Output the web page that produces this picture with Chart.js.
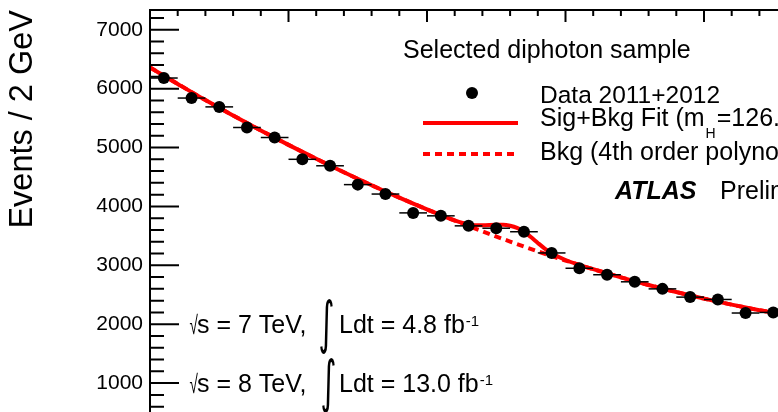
<!DOCTYPE html>
<html>
<head>
<meta charset="utf-8">
<script src="https://cdn.jsdelivr.net/npm/chart.js@4"></script>
<style>
  html, body { margin: 0; padding: 0; background: #fff; overflow: hidden; width: 778px; height: 412px; }
  #wrap { position: absolute; left: 0; top: 0; width: 1000px; height: 450px; }
</style>
</head>
<body>
<div id="wrap"><canvas id="c" width="1000" height="450"></canvas></div>
<script>
// Diphoton invariant mass, bin centres in GeV (2 GeV bins)
const massBins = [101, 103, 105, 107, 109, 111, 113, 115, 117, 119, 121, 123,
                  125, 127, 129, 131, 133, 135, 137, 139, 141, 143, 145];
// Selected events per bin (2011+2012 data)
const events = [6180, 5840, 5690, 5340, 5170, 4800, 4690, 4370, 4210, 3890, 3840, 3670,
                3630, 3570, 3210, 2950, 2840, 2720, 2600, 2460, 2420, 2190, 2200];
const binWidth = 2;

// Signal + background fit curve
const fitMass = [100, 102, 104, 106, 108, 110, 112, 114, 116, 118, 120, 122, 123, 124,
                 125, 125.5, 126, 126.5, 127, 127.5, 128, 128.5, 129, 130, 131, 132,
                 134, 136, 138, 140, 142, 144, 146];
const fitEvents = [6360, 6080, 5805, 5545, 5290, 5045, 4810, 4580, 4360, 4150, 3950, 3762, 3695, 3680,
                   3690, 3690, 3672, 3635, 3572, 3480, 3380, 3285, 3205, 3090, 3008, 2934,
                   2796, 2666, 2546, 2434, 2332, 2238, 2153];

// Background-only fit (4th order polynomial)
const bkgMass = [100, 102, 104, 106, 108, 110, 112, 114, 116, 118, 120, 122, 124, 126,
                 128, 130, 132, 134, 136, 138, 140, 142, 144, 146];
const bkgEvents = [6360, 6080, 5805, 5545, 5290, 5045, 4810, 4580, 4360, 4150, 3950, 3760, 3577, 3403,
                   3237, 3081, 2934, 2796, 2666, 2546, 2434, 2332, 2238, 2153];

// Vertical axis ticks
const yTickValues = [0, 1000, 2000, 3000, 4000, 5000, 6000, 7000];
const yTickLabels = ['0', '1000', '2000', '3000', '4000', '5000', '6000', '7000'];

const FONT = '"Liberation Sans", Arial, Helvetica, sans-serif';
const RED = '#ff0000';

function pts(xs, ys) { return xs.map((x, i) => ({ x: x, y: ys[i] })); }

function txt(ctx, s, x, y, size, style) {
  ctx.font = (style ? style + ' ' : '') + size + 'px ' + FONT;
  ctx.textAlign = 'left';
  ctx.textBaseline = 'alphabetic';
  ctx.fillStyle = '#000';
  ctx.fillText(s, x, y);
  return x + ctx.measureText(s).width;
}

// Draw a glyph stretched into a given box
function boxGlyph(ctx, ch, x0, y0, x1, y1, family) {
  ctx.save();
  ctx.font = '40px ' + family;
  ctx.textAlign = 'left';
  ctx.textBaseline = 'alphabetic';
  const m = ctx.measureText(ch);
  const w = m.actualBoundingBoxLeft + m.actualBoundingBoxRight;
  const h = m.actualBoundingBoxAscent + m.actualBoundingBoxDescent;
  ctx.translate(x0, y0);
  ctx.scale((x1 - x0) / w, (y1 - y0) / h);
  ctx.fillStyle = '#000';
  ctx.fillText(ch, m.actualBoundingBoxLeft, m.actualBoundingBoxAscent);
  ctx.restore();
}

const errorBars = {
  id: 'errorBars',
  afterDatasetsDraw(chart) {
    const ctx = chart.ctx, xs = chart.scales.x, ys = chart.scales.y;
    ctx.save();
    ctx.strokeStyle = '#000';
    ctx.lineWidth = 1.5;
    massBins.forEach((m, i) => {
      const y = ys.getPixelForValue(events[i]);
      ctx.beginPath();
      ctx.moveTo(xs.getPixelForValue(m - binWidth / 2), y);
      ctx.lineTo(xs.getPixelForValue(m + binWidth / 2), y);
      ctx.stroke();
    });
    ctx.restore();
  }
};

const frameAndText = {
  id: 'frameAndText',
  afterDraw(chart) {
    const ctx = chart.ctx, a = chart.chartArea, xs = chart.scales.x, ys = chart.scales.y;
    ctx.save();
    ctx.strokeStyle = '#000';
    ctx.lineWidth = 2;
    ctx.strokeRect(a.left, a.top, a.right - a.left, a.bottom - a.top);

    // inward ticks on the vertical axes
    for (let v = 0; v <= ys.max; v += 200) {
      const y = ys.getPixelForValue(v);
      const len = (v % 1000 === 0) ? 29 : 14;
      ctx.beginPath();
      ctx.moveTo(a.left, y); ctx.lineTo(a.left + len, y);
      ctx.moveTo(a.right, y); ctx.lineTo(a.right - len, y);
      ctx.stroke();
    }
    // inward ticks on the horizontal axes
    for (let m = xs.min; m <= xs.max; m += 2) {
      const x = xs.getPixelForValue(m);
      const len = (m % 10 === 0) ? 12 : 6;
      ctx.beginPath();
      ctx.moveTo(x, a.top); ctx.lineTo(x, a.top + len);
      ctx.moveTo(x, a.bottom); ctx.lineTo(x, a.bottom - len);
      ctx.stroke();
    }

    // legend
    txt(ctx, 'Selected diphoton sample', 403, 58, 25);
    ctx.fillStyle = '#000';
    ctx.beginPath(); ctx.arc(472, 93, 6, 0, Math.PI * 2); ctx.fill();
    txt(ctx, 'Data 2011+2012', 540, 103, 24.5);

    ctx.strokeStyle = RED; ctx.lineWidth = 4;
    ctx.beginPath(); ctx.moveTo(423, 123); ctx.lineTo(518, 123); ctx.stroke();
    let x = txt(ctx, 'Sig+Bkg Fit (m', 540, 126, 25);
    x = txt(ctx, 'H', x + 1, 138, 14);
    txt(ctx, '=126.5 GeV)', x + 1, 126, 25);

    ctx.setLineDash([7, 5]);
    ctx.beginPath(); ctx.moveTo(423, 154); ctx.lineTo(518, 154); ctx.stroke();
    ctx.setLineDash([]);
    txt(ctx, 'Bkg (4th order polynomial)', 540, 160, 25);

    txt(ctx, 'ATLAS', 615, 199, 25, 'italic bold');
    txt(ctx, 'Preliminary', 720, 199, 25);

    // luminosity lines
    boxGlyph(ctx, '\u221A', 190, 314, 198, 335, FONT);
    txt(ctx, 's = 7 TeV,', 197, 333, 25);
    boxGlyph(ctx, '\u222B', 320, 298, 333, 355, '"DejaVu Sans"');
    x = txt(ctx, 'Ldt = 4.8 fb', 339, 333, 25);
    txt(ctx, '-1', x + 1, 326, 15);

    boxGlyph(ctx, '\u221A', 190, 373, 198, 394, FONT);
    txt(ctx, 's = 8 TeV,', 197, 392, 25);
    boxGlyph(ctx, '\u222B', 322, 357, 335, 414, '"DejaVu Sans"');
    x = txt(ctx, 'Ldt = 13.0 fb', 339, 392, 25);
    txt(ctx, '-1', x + 1, 385, 15);
    ctx.restore();
  }
};

new Chart(document.getElementById('c'), {
  type: 'scatter',
  data: {
    datasets: [
      {
        label: 'Data 2011+2012',
        data: pts(massBins, events),
        pointRadius: 6,
        pointBackgroundColor: '#000',
        pointBorderColor: '#000',
        pointBorderWidth: 0,
        showLine: false,
        order: 0
      },
      {
        label: 'Sig+Bkg Fit',
        type: 'line',
        data: pts(fitMass, fitEvents),
        borderColor: RED,
        borderWidth: 4,
        pointRadius: 0,
        fill: false,
        cubicInterpolationMode: 'monotone',
        order: 1
      },
      {
        label: 'Bkg (4th order polynomial)',
        type: 'line',
        data: pts(bkgMass, bkgEvents),
        borderColor: RED,
        borderWidth: 4,
        borderDash: [7, 5],
        pointRadius: 0,
        fill: false,
        cubicInterpolationMode: 'monotone',
        order: 2
      }
    ]
  },
  options: {
    responsive: false,
    animation: false,
    devicePixelRatio: 1,
    layout: { padding: { left: 0, top: 10, right: 19, bottom: 8 } },
    plugins: { legend: { display: false }, tooltip: { enabled: false } },
    scales: {
      x: { type: 'linear', min: 100, max: 160, display: false },
      y: {
        type: 'linear', min: 0, max: 7335,
        afterFit(s) { s.width = 150; s.paddingTop = 0; s.paddingBottom = 0; },
        afterBuildTicks(s) { s.ticks = yTickValues.map(v => ({ value: v })); },
        ticks: {
          callback: (v) => { const i = yTickValues.indexOf(v); return i >= 0 ? yTickLabels[i] : ''; },
          color: '#000', font: { family: FONT, size: 21 }, padding: 7,
          autoSkip: false, maxRotation: 0, includeBounds: false
        },
        grid: { display: false, drawTicks: false },
        border: { display: false },
        title: {
          display: true, text: 'Events / 2 GeV', align: 'end', color: '#000',
          font: { family: FONT, size: 32.5 }, padding: { top: 4, bottom: 0 }
        }
      }
    }
  },
  plugins: [errorBars, frameAndText]
});
</script>
</body>
</html>
